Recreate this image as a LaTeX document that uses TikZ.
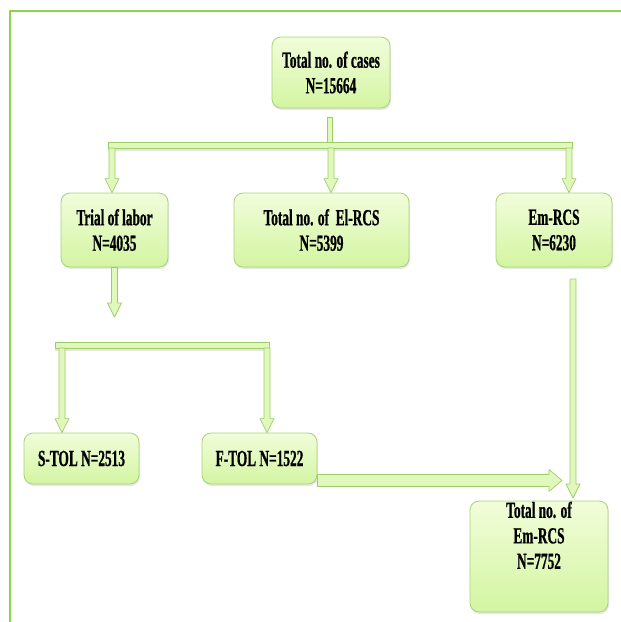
\documentclass[tikz,border=0pt]{standalone}
\usepackage{fontspec}
\newfontfamily\boxfont{Liberation Serif}[FakeStretch=0.58, BoldFeatures={FakeBold=0.7}]
\usetikzlibrary{calc,shadows}
\definecolor{boxtop}{HTML}{F1FDDA}
\definecolor{boxbot}{HTML}{D3F5A2}
\definecolor{boxline}{HTML}{A8D277}
\definecolor{arrfill}{HTML}{E0F8BC}
\definecolor{arrline}{HTML}{9ECC66}
\definecolor{framegreen}{HTML}{92D050}

\newcommand{\vblock}[2]{%
  \path[blockarrow] let \p1=(#1), \p2=(#2) in
    (\x1-3pt,\y1) -- (\x1+3pt,\y1) -- (\x1+3pt,\y2+14pt) -- (\x1+7pt,\y2+14pt)
    -- (\x1,\y2) -- (\x1-7pt,\y2+14pt) -- (\x1-3pt,\y2+14pt) -- cycle;}
\newcommand{\hblock}[2]{%
  \path[blockarrow] let \p1=(#1), \p2=(#2) in
    (\x1,\y1+6pt) -- (\x2-13pt,\y1+6pt) -- (\x2-13pt,\y1+11pt) -- (\x2,\y1)
    -- (\x2-13pt,\y1-11pt) -- (\x2-13pt,\y1-6pt) -- (\x1,\y1-6pt) -- cycle;}

\begin{document}
\begin{tikzpicture}[x=1pt, y=-1pt, line join=round,
    box/.style={draw=boxline, line width=0.8pt, rounded corners=9pt, top color=boxtop, bottom color=boxbot,
      align=center, inner sep=0pt, font=\boxfont\bfseries\fontsize{23}{25.5}\selectfont,
      drop shadow={opacity=0.18, shadow xshift=1pt, shadow yshift=-2pt}},
    blockarrow/.style={draw=arrline, line width=0.7pt, fill=arrfill},
    blockbar/.style={draw=arrline, line width=0.7pt, fill=arrfill,
      drop shadow={opacity=0.2, shadow xshift=0pt, shadow yshift=-3pt}}]
  \useasboundingbox (0,0) rectangle (621,622);
  \fill[white] (0,0) rectangle (621,622);
  \draw[framegreen, line width=2pt] (10,640) |- (640,11);

  \node[box, minimum width=118pt, minimum height=71pt] (cases) at (331,72.5) {Total no. of cases\\N=15664};
  \node[box, minimum width=107pt, minimum height=74pt] (trial) at (114.5,230) {Trial of labor\\N=4035};
  \node[box, minimum width=175pt, minimum height=74pt] (elrcs) at (321.5,230) {Total no. of\ \ El-RCS\\N=5399};
  \node[box, minimum width=116pt, minimum height=74pt] (emrcs) at (554,230) {Em-RCS\\N=6230};
  \node[box, minimum width=115pt, minimum height=51pt] (stol) at (81.5,458.5) {S-TOL N=2513};
  \node[box, minimum width=115pt, minimum height=51pt] (ftol) at (259.5,458.5) {F-TOL N=1522};
  \node[box, minimum width=138pt, minimum height=111pt] (total) at (539,556.5) {Total no. of\\Em-RCS\\N=7752\\[17pt]};

  \path[blockbar] ($(cases.south)+(-3.5,9)$) rectangle ($(cases.south)+(1.5,35)$);
  \coordinate (bar1l) at (108,142);
  \coordinate (bar1r) at (572,148);
  \path[blockbar] (bar1l) rectangle (bar1r);
  \coordinate (a1) at (112,148);
  \coordinate (a2) at (331,148);
  \coordinate (a3) at (569,148);
  \vblock{a1}{a1 |- trial.north}
  \vblock{a2}{a2 |- elrcs.north}
  \vblock{a3}{a3 |- emrcs.north}

  \coordinate (t4) at (114,317);
  \vblock{trial.south}{t4}
  \coordinate (bar2l) at (55,342);
  \coordinate (bar2r) at (269,348);
  \path[blockbar] (bar2l) rectangle (bar2r);
  \coordinate (a5) at (62,348);
  \coordinate (a6) at (267,348);
  \vblock{a5}{a5 |- stol.north}
  \vblock{a6}{a6 |- ftol.north}

  \coordinate (a7) at (573,279);
  \coordinate (t7) at (573,498);
  \vblock{a7}{t7}
  \coordinate (t8) at (562,480);
  \hblock{$(ftol.south east)+(0,-4)$}{t8}
\end{tikzpicture}
\end{document}
